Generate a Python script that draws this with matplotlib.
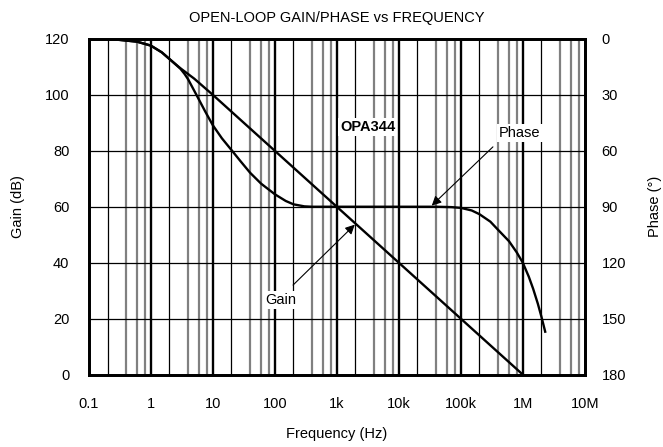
import matplotlib
matplotlib.use('Agg')
import matplotlib.pyplot as plt

plt.rcParams['font.family'] = ['Liberation Sans', 'DejaVu Sans']

# gain curve (dB)
gain_freq = [0.1, 0.3, 0.6, 1, 1.5, 2, 3, 5, 10, 100, 1e3, 1e4, 1e5, 1e6]
gain_db = [120, 119.7, 119, 117.6, 115.2, 112.8, 109.5, 105.8, 100, 80, 60, 40, 20, 0]

# phase curve (degrees)
phase_freq = [0.1, 0.3, 0.6, 1, 1.5, 2, 3, 3.5, 4, 5.6, 7.5, 10, 14, 20, 28, 40, 60, 100,
              150, 200, 300, 400, 1e3, 1e4, 4e4, 7e4, 1e5, 1.5e5, 2e5, 3e5, 4e5,
              6e5, 8e5, 1e6, 1.25e6, 1.47e6, 1.75e6, 2e6, 2.3e6]
phase_deg = [0, 0.5, 1.5, 3.6, 7.2, 10.8, 16.0, 18.8, 21.7, 30.8, 38.8, 46.3, 53.3, 59.6, 65.6, 71.8, 77.6, 83.3,
             86.9, 88.7, 89.8, 90, 90, 90, 90, 90.2, 90.6, 92, 94, 98, 102.4,
             108.5, 114.5, 120, 127.5, 134, 142, 149, 157]

dec_ticks = [0.1, 1, 10, 100, 1e3, 1e4, 1e5, 1e6, 1e7]
dec_labels = ['0.1', '1', '10', '100', '1k', '10k', '100k', '1M', '10M']
gain_ticks = [0, 20, 40, 60, 80, 100, 120]
phase_ticks = [0, 30, 60, 90, 120, 150, 180]

fs = 10.5
fig = plt.figure(figsize=(6.63, 4.47), dpi=100)
ax = fig.add_axes([0.134, 0.162, 0.748, 0.751])
ax.set_xscale('log')
ax.set_xlim(0.1, 1e7)
ax.set_ylim(0, 120)

# grid: decades thick, 2x thin black, 4/6/8x gray
for d in dec_ticks[:-1]:
    ax.axvline(d * 2, color='black', lw=0.9, zorder=1)
    for m in (4, 6, 8):
        ax.axvline(d * m, color='#808080', lw=1.6, zorder=1)
    ax.axvline(d, color='black', lw=1.7, zorder=1)
for g in gain_ticks:
    ax.axhline(g, color='black', lw=0.9, zorder=1)

ax.plot(gain_freq, gain_db, color='black', lw=1.7, zorder=3)

ax.set_xticks(dec_ticks)
ax.set_xticklabels(dec_labels)
ax.minorticks_off()
ax.set_yticks(gain_ticks)
ax.tick_params(axis='both', length=0, labelsize=fs)
ax.tick_params(axis='y', pad=14)
ax.tick_params(axis='x', pad=16)
for s in ax.spines.values():
    s.set_linewidth(2)
ax.set_xlabel('Frequency (Hz)', fontsize=fs, labelpad=12)
ax.set_ylabel('Gain (dB)', fontsize=fs, labelpad=14)
ax.set_title('OPEN-LOOP GAIN/PHASE vs FREQUENCY', fontsize=fs, pad=12)

ax2 = ax.twinx()
ax2.set_ylim(180, 0)
ax2.plot(phase_freq, phase_deg, color='black', lw=1.7, zorder=3)
ax2.set_yticks(phase_ticks)
ax2.tick_params(axis='y', length=0, labelsize=fs, pad=12)
ax2.set_ylabel('Phase (°)', fontsize=fs, labelpad=16)
for s in ax2.spines.values():
    s.set_linewidth(2)

box = dict(facecolor='white', edgecolor='none', pad=1.5)
ax.text(3.16e3, 88.5, 'OPA344', fontsize=fs, fontweight='bold',
        ha='center', va='center', bbox=box, zorder=5)
ax.text(9e5, 86.3, 'Phase', fontsize=fs, ha='center', va='center', bbox=box, zorder=5)
ax.text(126, 26.5, 'Gain', fontsize=fs, ha='center', va='center', bbox=box, zorder=5)

arrow = dict(arrowstyle='-|>', color='black', lw=0.8, mutation_scale=14, shrinkA=0, shrinkB=0)
ax.annotate('', xy=(3.4e4, 60.4), xytext=(3.3e5, 81.4), arrowprops=arrow, zorder=4)
ax.annotate('', xy=(1.95e3, 53.6), xytext=(197, 32), arrowprops=arrow, zorder=4)

fig.savefig('out.png', dpi=100)
